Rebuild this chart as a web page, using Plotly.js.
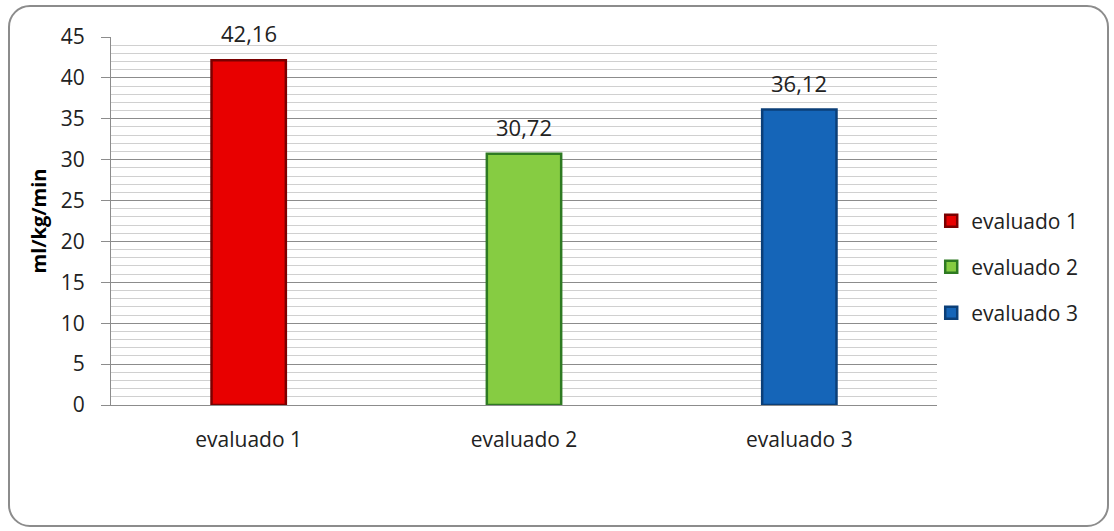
<!DOCTYPE html>
<html>
<head>
<meta charset="utf-8">
<script src="https://cdn.plot.ly/plotly-3.0.1.min.js"></script>
<style>
  html, body { margin: 0; padding: 0; background: #ffffff; }
  #wrap { position: relative; width: 1114px; height: 531px; overflow: hidden; }
  #frame { position: absolute; left: 8px; top: 5px; width: 1101px; height: 522px;
           border: 2px solid #8c8c8c; border-radius: 22px; box-sizing: border-box; }
  #chart { position: absolute; left: 0; top: 0; width: 1114px; height: 531px; }
</style>
</head>
<body>
<div id="wrap">
  <div id="frame"></div>
  <div id="chart"></div>
</div>
<script>
const categories = ["evaluado 1", "evaluado 2", "evaluado 3"];
const values = [42.16, 30.72, 36.12];
const seriesNames = ["evaluado 1", "evaluado 2", "evaluado 3"];
const yTitle = "ml/kg/min";

const fills = ["#e80000", "#86cc42", "#1565b8"];
const edges = ["#7a0000", "#2e7a22", "#0b3f78"];
const FONT = "'Open Sans', sans-serif";

const legendNames = ["legend", "legend2", "legend3"];
const traces = categories.map((c, i) => ({
  type: "bar",
  x: [c],
  y: [values[i]],
  name: seriesNames[i],
  width: 0.27,
  marker: { color: fills[i], line: { color: edges[i], width: 2.5 } },
  legend: legendNames[i],
  hoverinfo: "skip"
}));

const annotations = categories.map((c, i) => ({
  x: c, y: values[i], xref: "x", yref: "y",
  text: values[i].toFixed(2).replace(".", ","),
  showarrow: false, yshift: 27,
  font: { family: FONT, size: 22, color: "#222" }
}));

const legendY = [0.5, 0.375, 0.25];
const layout = {
  width: 1114, height: 531,
  margin: { l: 111, r: 177, t: 37, b: 126 },
  paper_bgcolor: "rgba(0,0,0,0)",
  plot_bgcolor: "#ffffff",
  barmode: "overlay",
  showlegend: true,
  annotations: annotations,
  font: { family: FONT, size: 21, color: "#222" },
  xaxis: {
    type: "category",
    range: [-0.5, 2.5],
    showline: true, linecolor: "#8c8c8c", linewidth: 1,
    ticks: "", showgrid: false,
    tickfont: { family: FONT, size: 21, color: "#222" },
    ticklabelstandoff: 16
  },
  yaxis: {
    range: [0, 45],
    dtick: 5,
    showline: true, linecolor: "#8c8c8c", linewidth: 1,
    ticks: "outside", ticklen: 9, tickcolor: "#8c8c8c",
    gridcolor: "#8c8c8c", gridwidth: 1,
    zeroline: false,
    minor: { dtick: 1, showgrid: true, gridcolor: "#d0d0d0", gridwidth: 1, ticks: "" },
    tickfont: { family: FONT, size: 21, color: "#222" },
    ticklabelstandoff: 12,
    title: { text: yTitle, font: { family: FONT, size: 20, color: "#000", weight: "bold" }, standoff: 8 }
  }
};
legendNames.forEach((ln, i) => {
  layout[ln] = {
    x: 0.993, xanchor: "left", y: legendY[i], yanchor: "middle",
    bgcolor: "rgba(0,0,0,0)",
    font: { family: FONT, size: 21, color: "#222" },
    itemwidth: 30
  };
});

Plotly.newPlot("chart", traces, layout, { displayModeBar: false, staticPlot: true });
</script>
</body>
</html>
